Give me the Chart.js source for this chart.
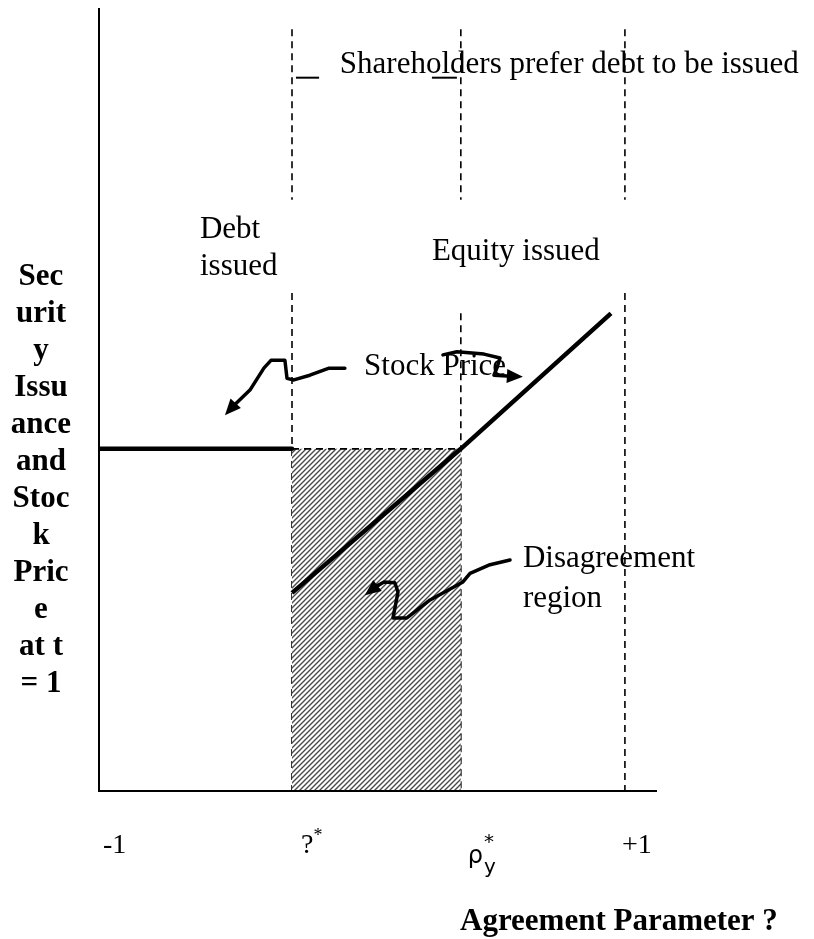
<!DOCTYPE html>
<html>
<head>
<meta charset="utf-8">
<script src="https://cdn.jsdelivr.net/npm/chart.js@4.4.1/dist/chart.umd.min.js"></script>
<style>
  body { margin: 0; background: #fff; }
  canvas { display: block; }
</style>
</head>
<body>
<canvas id="chart" width="814" height="939"></canvas>
<script>
// Agreement parameter marks on the x axis: -1, rho*, rho_y*, +1
const xMarks = [-1, -0.266, 0.376, 1];
const tickMain = ['-1', '?', 'ρ', '+1'];
const tickSup = ['', '*', '*', ''];
const tickSub = ['', '', 'y', ''];

// Stock price curve (flat while debt is issued, rising with equity)
const flatX = [-1, -0.266];
const flatY = [43.7, 43.7];
const riseX = [-0.266, 0.376, 0.947];
const riseY = [25.3, 43.7, 61.0];

// Disagreement region (hatched box)
const regionX = [-0.266, 0.376];
const regionY = [43.7, 43.7];

// Dashed guides at rho*, rho_y*, +1
const guideX = [-0.266, 0.376, 1];
const guideUpper = [97.3, 75.5];
const guideLowerTop = [63.6, 61.0, 63.6];

const yTitle = ['Sec', 'urit', 'y', 'Issu', 'ance', 'and', 'Stoc', 'k', 'Pric', 'e', 'at t', '= 1'];
const xTitle = 'Agreement Parameter ?';

// text notes placed in data units
const notes = [
    { text: 'Shareholders prefer debt to be issued', x: -0.084, y: 91.7 },
    { text: 'Debt', x: -0.616, y: 70.6 },
    { text: 'issued', x: -0.616, y: 65.9 },
    { text: 'Equity issued', x: 0.266, y: 67.8 },
    { text: 'Stock Price', x: 0.008, y: 53.1 },
    { text: 'Disagreement', x: 0.612, y: 28.6 },
    { text: 'region', x: 0.612, y: 23.5 }
];

// hand drawn arrows (last point is the tip)
const arrows = [
    [[-0.065, 54.0], [-0.125, 54.0], [-0.198, 53.1], [-0.259, 52.5], [-0.285, 52.7], [-0.293, 55.0],
     [-0.346, 55.0], [-0.373, 54.0], [-0.426, 51.2], [-0.494, 49.0], [-0.521, 48.0]],
    [[0.308, 55.7], [0.361, 56.1], [0.464, 55.8], [0.525, 55.3], [0.513, 54.0], [0.502, 53.1], [0.612, 52.9]],
    [[0.563, 29.5], [0.487, 28.9], [0.411, 27.8], [0.384, 26.7], [0.259, 24.4], [0.171, 22.1], [0.118, 22.1],
     [0.137, 25.4], [0.125, 26.6], [0.084, 26.7], [0.053, 26.1], [0.011, 25.0]]
];
const underscores = [[-0.251, -0.163], [0.266, 0.361]];
const underscoreY = 91.1;

const SERIF = '"Liberation Serif", "Times New Roman", serif';

function toPoints(xs, ys) {
    return xs.map((x, i) => ({ x: x, y: ys[i] }));
}

function makeHatch(ctx) {
    const c = document.createElement('canvas');
    c.width = 5;
    c.height = 5;
    const g = c.getContext('2d');
    g.fillStyle = '#ffffff';
    g.fillRect(0, 0, 5, 5);
    g.strokeStyle = '#4a4a4a';
    g.lineWidth = 1.4;
    g.beginPath();
    g.moveTo(-1, 6); g.lineTo(6, -1);
    g.moveTo(-1, 1); g.lineTo(1, -1);
    g.moveTo(4, 6); g.lineTo(6, 4);
    g.stroke();
    return ctx.createPattern(c, 'repeat');
}

const ctx = document.getElementById('chart').getContext('2d');

const dashed = { borderColor: '#000', borderWidth: 1.6, borderDash: [7, 5], pointRadius: 0, fill: false };

const datasets = [
    { data: toPoints(flatX, flatY), borderColor: '#000', borderWidth: 4.5, borderCapStyle: 'round', pointRadius: 0, fill: false },
    { data: toPoints(riseX, riseY), borderColor: '#000', borderWidth: 4.5, pointRadius: 0, fill: false },
    { data: toPoints(regionX, regionY), borderColor: '#000', borderWidth: 1.6, borderDash: [7, 5], pointRadius: 0,
      fill: 'origin', backgroundColor: makeHatch(ctx) }
];
guideX.forEach((gx, i) => {
    datasets.push(Object.assign({ data: [{ x: gx, y: guideUpper[0] }, { x: gx, y: guideUpper[1] }] }, dashed));
    datasets.push(Object.assign({ data: [{ x: gx, y: guideLowerTop[i] }, { x: gx, y: 0 }] }, dashed));
});

function drawArrow(c, pts) {
    const n = pts.length;
    const tip = pts[n - 1];
    const prev = pts[n - 2];
    const ang = Math.atan2(tip[1] - prev[1], tip[0] - prev[0]);
    const len = 16, half = 7;
    const bx = tip[0] - Math.cos(ang) * len;
    const by = tip[1] - Math.sin(ang) * len;
    c.beginPath();
    c.moveTo(pts[0][0], pts[0][1]);
    for (let i = 1; i < n - 1; i++) c.lineTo(pts[i][0], pts[i][1]);
    c.lineTo(bx, by);
    c.stroke();
    c.beginPath();
    c.moveTo(tip[0], tip[1]);
    c.lineTo(bx - Math.sin(ang) * half, by + Math.cos(ang) * half);
    c.lineTo(bx + Math.sin(ang) * half, by - Math.cos(ang) * half);
    c.closePath();
    c.fill();
}

const decorations = {
    id: 'decorations',
    afterDatasetsDraw(chart) {
        const c = chart.ctx;
        const xs = chart.scales.x;
        const ys = chart.scales.y;
        const area = chart.chartArea;
        c.save();

        // axes
        c.strokeStyle = '#000';
        c.lineWidth = 2;
        c.beginPath();
        c.moveTo(area.left, area.top);
        c.lineTo(area.left, area.bottom);
        c.lineTo(area.right, area.bottom);
        c.stroke();

        // notes
        c.fillStyle = '#000';
        c.font = '31px ' + SERIF;
        c.textAlign = 'left';
        c.textBaseline = 'alphabetic';
        notes.forEach(n => c.fillText(n.text, xs.getPixelForValue(n.x), ys.getPixelForValue(n.y)));

        c.lineWidth = 2;
        underscores.forEach(u => {
            const yy = ys.getPixelForValue(underscoreY);
            c.beginPath();
            c.moveTo(xs.getPixelForValue(u[0]), yy);
            c.lineTo(xs.getPixelForValue(u[1]), yy);
            c.stroke();
        });

        // arrows
        c.lineWidth = 3.5;
        c.lineJoin = 'round';
        c.lineCap = 'round';
        arrows.forEach(a => drawArrow(c, a.map(p => [xs.getPixelForValue(p[0]), ys.getPixelForValue(p[1])])));

        // x tick labels
        const tickDx = [4, 9, 7, -3];
        const base = area.bottom + 62;
        xMarks.forEach((v, i) => {
            let x0 = xs.getPixelForValue(v) + tickDx[i];
            if (tickSub[i]) {
                c.font = '24px "DejaVu Sans", sans-serif';
                c.fillText(tickMain[i], x0, base + 10);
                const w = c.measureText(tickMain[i]).width;
                c.font = '20px "DejaVu Sans", sans-serif';
                c.fillText(tickSub[i], x0 + w + 1, base + 20);
                c.fillText(tickSup[i], x0 + w + 1, base - 5);
            } else {
                c.font = '28px ' + SERIF;
                c.fillText(tickMain[i], x0, base);
                const w = c.measureText(tickMain[i]).width;
                if (tickSup[i]) {
                    c.font = '18px ' + SERIF;
                    c.fillText(tickSup[i], x0 + w, base - 12);
                }
            }
        });

        // axis titles
        c.font = 'bold 31px ' + SERIF;
        c.fillText(xTitle, 460, 930);
        c.textAlign = 'center';
        yTitle.forEach((t, i) => c.fillText(t, 41, 285 + i * 37));

        c.restore();
    }
};

new Chart(ctx, {
    type: 'line',
    data: { datasets: datasets },
    options: {
        responsive: false,
        animation: false,
        layout: { padding: { left: 99, right: 157, top: 8, bottom: 148 } },
        scales: {
            x: { type: 'linear', min: -1, max: 1.122, display: false },
            y: { type: 'linear', min: 0, max: 100, display: false }
        },
        plugins: {
            legend: { display: false },
            tooltip: { enabled: false },
            title: { display: false }
        }
    },
    plugins: [decorations]
});
</script>
</body>
</html>
